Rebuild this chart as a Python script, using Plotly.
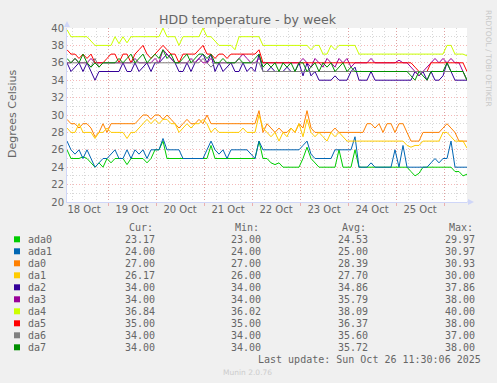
import plotly.graph_objects as go
import pandas as pd

# ---------------- data ----------------
series_names = ["ada0", "ada1", "da0", "da1", "da2", "da3", "da4", "da5", "da6", "da7"]
series_colors = ["#00CC00", "#0066B3", "#FF8000", "#FFCC00", "#330099",
                 "#990099", "#CCFF00", "#FF0000", "#808080", "#008F00"]

ada0 = [26, 25, 25, 25, 25.2, 25, 24.5, 24, 24.5, 24,
        25, 24.5, 25, 25, 25, 24.3, 25, 25, 25, 25,
        24.5, 25, 26, 26, 27, 25, 25, 25, 25, 25,
        25, 25, 25, 25, 25, 25, 26.5, 25, 25, 25,
        25, 25, 25, 25, 25, 25, 25, 25, 27, 25,
        25, 24.5, 24.3, 24.5, 24, 24, 24, 24, 24, 25,
        26.3, 25, 24.5, 24, 24, 24, 24, 24, 26, 24,
        24, 24, 26, 24, 24, 24, 24, 24, 24, 24,
        24, 24, 24, 24, 24, 24, 23.5, 23, 23.3, 24,
        24, 24, 24, 24, 24, 24, 24, 23.5, 23.5, 23,
        23.2]
ada1 = [27, 26, 25.5, 26, 25, 26, 25, 24, 24.5, 25,
        25, 25.5, 26, 25, 25, 26, 25, 26, 25.5, 26,
        25, 26, 26, 26, 27.3, 26, 26, 26, 26, 25,
        25, 25, 25, 25, 25, 26, 27, 26, 25.5, 26,
        25, 26, 26, 26, 26, 26, 25.5, 25, 27, 26,
        26, 26, 26, 26, 26, 26, 26, 26, 26, 26.5,
        27, 25.5, 25, 25, 25, 25, 25, 26, 26, 26,
        26, 26, 27.5, 24, 24, 24, 24.5, 24, 24, 24,
        24, 24, 26, 24, 26.5, 24, 24, 24, 24, 24,
        24, 24.5, 25, 24.5, 25, 25, 27, 24, 24, 24,
        24]
da0 = [29.5, 29, 29, 28.5, 29, 29, 28.5, 27.5, 28, 29,
       28, 29, 29, 29, 29, 29, 29, 29, 29.5, 30,
       30, 29.5, 30, 30, 29.5, 30, 29.5, 29, 28.5, 29,
       29.5, 29, 29, 29.5, 29, 30, 29, 29, 29, 29,
       29, 29, 29, 29, 29, 29, 29, 29, 30.5, 28,
       29, 28.5, 28, 28.5, 28, 28, 28.5, 28, 29, 28.5,
       30.5, 28.5, 28, 28, 28, 28, 28, 28.5, 28, 28,
       28, 28, 28, 28, 28, 29, 29, 28.5, 29, 28,
       29, 29, 28, 29, 29, 28, 27, 27, 27, 28,
       28, 28, 28, 28, 28.5, 29, 28.5, 28, 27, 27,
       27]
da1 = [28.5, 28, 28, 29, 28, 28, 28, 27.3, 28, 28,
       28.5, 28, 28, 28, 28, 27.3, 28, 28, 28.5, 29,
       29.5, 29, 29.5, 29, 29.5, 29.5, 29, 29, 28, 28.5,
       29, 28.5, 29, 29, 29.5, 29, 28, 28.5, 28, 28,
       28, 28, 28, 28, 28.5, 28, 28, 28, 30, 28.5,
       28, 27.5, 28, 27, 28, 27.5, 28.5, 28, 29, 27.5,
       29.5, 28, 27.5, 28, 27.5, 27, 28, 27.5, 28, 27.5,
       27, 27, 27, 27, 27, 27, 27, 27, 27, 27,
       27, 27, 27, 27, 27, 26.5, 26.3, 26.5, 26.5, 27,
       27, 27, 27, 27, 28, 28, 27.5, 27, 27, 27,
       26.2]
da2 = [36, 35, 35.5, 36, 35, 36, 35, 34, 35, 35,
       35, 35, 35, 35, 36, 35, 35, 36, 35, 35.5,
       36, 35, 36, 36, 36.5, 37, 36.5, 36, 35, 35,
       36, 35, 36, 36.5, 37, 36, 37, 35, 36, 35,
       35.5, 36, 35, 35, 36, 35, 35.5, 35, 37, 35,
       35, 35.5, 35, 35, 35, 35.5, 35, 35, 36, 34.5,
       36, 34.5, 35, 34, 34, 34, 34, 34.5, 34, 34,
       34, 35, 35.5, 34, 34, 34, 35, 34, 34, 34,
       34, 34, 34, 34, 34, 34, 34, 35, 34.5, 35,
       34, 35, 34, 34, 34.5, 36, 35, 34, 34, 34,
       34]
da3 = [36, 36, 36.5, 36, 36, 36, 36.5, 36, 36, 36,
       36, 36, 36, 36, 36, 36, 36, 36.5, 36, 36,
       36, 36, 36.5, 36, 37.5, 37, 36.5, 36, 36, 36,
       36, 36.5, 36, 36.5, 36, 36, 36.5, 36, 36, 36,
       36, 36, 36, 36.5, 37, 36.5, 36, 36, 36.5, 36,
       36, 36, 36, 36, 36, 36, 36, 36, 36, 36.5,
       36, 35.5, 36.5, 36, 35.5, 36.5, 36, 35.5, 36.5, 36,
       36.5, 35.5, 36, 36, 36, 36, 36.5, 36, 36, 36,
       36, 36, 36, 36.3, 36, 36, 35.5, 35, 34.5, 35,
       35.5, 36, 36.5, 36, 36.5, 36, 36.5, 36, 36, 35,
       34]
da4 = [39.8, 39, 39, 39, 39, 39, 38.5, 38, 38, 38,
       38, 38, 39, 38.2, 39, 38.3, 39, 39, 39, 39,
       39, 39, 39, 39, 40, 39, 39, 39, 38, 39,
       39, 39, 39, 39, 40, 39, 39, 38.5, 38, 38,
       38, 38, 37.5, 39, 39, 39, 39, 39, 39, 38,
       38, 38, 38, 38, 38, 38, 38, 38, 38, 38,
       38, 37.5, 38, 38, 37, 37, 38, 37.5, 38, 38,
       38, 38, 38, 37, 37, 37, 37, 37, 37, 37,
       37, 37, 37, 37, 37, 37, 37, 37, 37, 37,
       37, 37, 37, 37, 37, 38, 38, 37, 37, 37,
       36.8]
da5 = [37.5, 37, 37, 36.5, 37, 36.5, 37, 36, 36, 36,
       36.5, 37, 37, 36, 37, 37, 36, 37, 37.5, 38,
       37, 36.5, 37, 37.5, 38, 37.5, 37, 37, 36, 37,
       37, 37, 37, 37.5, 38, 37, 37, 36.5, 37, 37,
       36.5, 37, 37, 37, 37, 37, 37, 37, 37.5, 36,
       36, 36, 36, 36, 36, 36, 36, 36, 36, 36,
       36, 36, 36, 36, 36, 36, 36, 36, 36, 36,
       36, 36, 36, 36, 36, 36, 36, 36, 36, 36,
       36, 36, 36, 36, 36, 36, 36, 35.5, 35, 35,
       35, 36, 36, 36, 36, 36, 36, 36, 36, 36,
       35]
da6 = [36, 36, 36, 36, 36, 36, 35.5, 36.5, 35.5, 36,
       36, 36, 36, 36, 36, 36, 36, 36, 36, 36,
       36, 36, 36, 36, 36, 36, 36, 36, 36, 36,
       36, 36, 36, 36, 36.5, 36, 35.5, 36, 36, 36,
       36, 36, 36, 36, 36, 36, 36, 36, 36, 35,
       35, 35, 35, 35, 35, 35, 35, 35, 35, 35,
       35, 35, 35, 35, 35, 35, 35, 35, 35, 35,
       35, 35, 35, 35, 35, 35, 35, 35, 35, 35,
       35, 35, 35, 35, 35, 35, 35, 35, 35, 35,
       35, 35, 35, 35, 35, 35, 35, 35, 35, 35,
       34]
da7 = [36.5, 36, 36.5, 36, 37, 36, 35.5, 36, 35.5, 36,
       36, 36, 36, 36.5, 36, 36.5, 37, 36, 36.5, 37,
       36, 36.5, 37, 36.5, 37.5, 36.5, 37, 36, 36, 36.5,
       37, 36, 36.5, 37, 37, 36.5, 37, 36, 36, 36.5,
       36, 36, 36, 36.5, 36, 36, 36, 36.5, 37, 35.5,
       36, 35.5, 36, 35, 36, 35.5, 36, 35, 36, 36,
       35, 35.5, 36, 35, 36, 35.5, 36, 35, 35.5, 36,
       35, 35.5, 35, 35, 35, 35, 35, 35, 35, 35,
       35, 35, 35, 35, 35, 35, 34.5, 34, 35, 34.5,
       34, 35, 35, 35, 35, 36, 35, 35, 35, 35,
       34]

series_values = [ada0, ada1, da0, da1, da2, da3, da4, da5, da6, da7]

cur_vals = ["23.17", "24.00", "27.00", "26.17", "34.00", "34.00", "36.84", "35.00", "34.00", "34.00"]
min_vals = ["23.00", "24.00", "27.00", "26.00", "34.00", "34.00", "36.02", "35.00", "34.00", "34.00"]
avg_vals = ["24.53", "25.00", "28.39", "27.70", "34.86", "35.79", "38.09", "36.37", "35.60", "35.72"]
max_vals = ["29.97", "30.97", "30.93", "30.00", "37.86", "38.00", "40.00", "38.00", "37.00", "38.00"]

day_labels = ["18 Oct", "19 Oct", "20 Oct", "21 Oct", "22 Oct", "23 Oct", "24 Oct", "25 Oct"]
day_dates = ["2025-10-18", "2025-10-19", "2025-10-20", "2025-10-21",
             "2025-10-22", "2025-10-23", "2025-10-24", "2025-10-25"]

start = pd.Timestamp("2025-10-18 03:30")
end = pd.Timestamp("2025-10-26 11:30")
times = pd.date_range(start, periods=len(ada0), freq="2h")

# ---------------- layout geometry ----------------
W, H = 497, 383
L, R, T, B = 67, 30, 28, 181
PW = W - L - R
PH = H - T - B


def pxx(x):
    return (x - L) / PW


def pxy(y):
    return (H - B - y) / PH


FONT = "DejaVu Sans"
MONO = "DejaVu Sans Mono"
TXT = "#666666"
AXIS = "#CFD6F8"
MINOR = "rgba(143,143,143,0.35)"
MAJOR = "rgba(229,80,80,0.40)"
DASH = "1px,2px"

fig = go.Figure()
for name, col, vals in zip(series_names, series_colors, series_values):
    fig.add_trace(go.Scatter(x=times, y=vals, mode="lines", name=name,
                             line=dict(color=col, width=1), hoverinfo="skip"))

# dummy traces for auxiliary axes
fig.add_trace(go.Scatter(x=[start, end], y=[30, 30], xaxis="x2", mode="markers",
                         marker=dict(opacity=0), hoverinfo="skip", showlegend=False))
fig.add_trace(go.Scatter(x=[start, end], y=[30, 30], xaxis="x3", mode="markers",
                         marker=dict(opacity=0), hoverinfo="skip", showlegend=False))

noon_vals = [pd.Timestamp(d) + pd.Timedelta(hours=12) for d in day_dates]

fig.update_layout(
    width=W, height=H, autosize=False,
    margin=dict(l=L, r=R, t=T, b=B, pad=0),
    paper_bgcolor="#F0F0F0", plot_bgcolor="#FFFFFF",
    showlegend=False, hovermode=False,
    font=dict(family=FONT, size=10, color=TXT),
    xaxis=dict(range=[start, end], type="date", tickmode="linear",
               tick0="2025-10-18 00:00", dtick=6 * 3600 * 1000,
               showgrid=True, gridcolor=MINOR, griddash=DASH, gridwidth=1,
               showticklabels=False, ticks="", zeroline=False,
               showline=True, linecolor=AXIS, linewidth=1, fixedrange=True),
    xaxis2=dict(range=[start, end], type="date", overlaying="x", anchor="y",
                tickmode="linear", tick0="2025-10-18 00:00", dtick=86400000,
                showgrid=True, gridcolor=MAJOR, griddash=DASH, gridwidth=1,
                showticklabels=False, ticks="outside", ticklen=3,
                tickcolor=MAJOR, zeroline=False, showline=False, fixedrange=True),
    xaxis3=dict(range=[start, end], type="date", overlaying="x", anchor="y",
                tickmode="array", tickvals=noon_vals, ticktext=day_labels,
                showgrid=False, ticks="", zeroline=False, showline=False,
                tickfont=dict(family=FONT, size=10, color=TXT), fixedrange=True),
    yaxis=dict(range=[20, 40], tickmode="linear", tick0=20, dtick=2,
               showgrid=True, gridcolor=MAJOR, griddash=DASH, gridwidth=1,
               minor=dict(dtick=1, showgrid=True, gridcolor=MINOR, griddash=DASH),
               ticks="", zeroline=False, showline=True, linecolor=AXIS,
               tickfont=dict(family=FONT, size=10, color=TXT), fixedrange=True),
)

ann = []
ann.append(dict(x=pxx(248), y=pxy(19), xref="paper", yref="paper", text="HDD temperature - by week",
                showarrow=False, xanchor="center", yanchor="middle",
                font=dict(family=FONT, size=12.6, color=TXT)))
ann.append(dict(x=pxx(12), y=pxy(113), xref="paper", yref="paper", text="Degrees Celsius",
                showarrow=False, textangle=-90, xanchor="center", yanchor="middle",
                font=dict(family=FONT, size=11, color=TXT)))
ann.append(dict(x=pxx(489), y=pxy(58), xref="paper", yref="paper", text="RRDTOOL / TOBI OETIKER",
                showarrow=False, textangle=90, xanchor="center", yanchor="middle",
                font=dict(family=FONT, size=7.5, color="#C8C8C8")))

col_left = [126.7, 233.3, 340.0, 446.7]
col_right = [c + 30.0 for c in col_left]
headers = ["Cur:", "Min:", "Avg:", "Max:"]
for hx, ht in zip(col_left, headers):
    ann.append(dict(x=pxx(hx), y=pxy(227.5), xref="paper", yref="paper", text=ht,
                    showarrow=False, xanchor="left", yanchor="middle",
                    font=dict(family=MONO, size=10, color=TXT)))

shapes = []
row_y0 = 239.3
row_dy = 12.0
for k, name in enumerate(series_names):
    yy = row_y0 + k * row_dy
    shapes.append(dict(type="rect", xref="paper", yref="paper",
                       x0=pxx(14), x1=pxx(20), y0=pxy(yy - 3), y1=pxy(yy + 3),
                       fillcolor=series_colors[k], line=dict(width=0)))
    ann.append(dict(x=pxx(26), y=pxy(yy), xref="paper", yref="paper", text=name,
                    showarrow=False, xanchor="left", yanchor="middle",
                    font=dict(family=MONO, size=10, color=TXT)))
    for cx, vals in zip(col_right, [cur_vals, min_vals, avg_vals, max_vals]):
        ann.append(dict(x=pxx(cx), y=pxy(yy), xref="paper", yref="paper", text=vals[k],
                        showarrow=False, xanchor="right", yanchor="middle",
                        font=dict(family=MONO, size=10, color=TXT)))

ann.append(dict(x=pxx(482.7), y=pxy(359.3), xref="paper", yref="paper",
                text="Last update: Sun Oct 26 11:30:06 2025",
                showarrow=False, xanchor="right", yanchor="middle",
                font=dict(family=MONO, size=10, color=TXT)))
ann.append(dict(x=pxx(247.7), y=pxy(372.3), xref="paper", yref="paper",
                text="Munin 2.0.76", showarrow=False, xanchor="center", yanchor="middle",
                font=dict(family=FONT, size=7.5, color="#CCCCCC")))

# axis arrows
shapes.append(dict(type="path", xref="paper", yref="paper",
                   path=f"M {pxx(64)},{pxy(27)} L {pxx(67)},{pxy(21)} L {pxx(70)},{pxy(27)} Z",
                   fillcolor=AXIS, line=dict(width=0)))
shapes.append(dict(type="line", xref="paper", yref="paper",
                   x0=pxx(467), x1=pxx(469), y0=pxy(202), y1=pxy(202),
                   line=dict(color=AXIS, width=1)))
shapes.append(dict(type="path", xref="paper", yref="paper",
                   path=f"M {pxx(468)},{pxy(199)} L {pxx(474)},{pxy(202)} L {pxx(468)},{pxy(205)} Z",
                   fillcolor=AXIS, line=dict(width=0)))

fig.update_layout(annotations=ann, shapes=shapes)

fig.write_html("out.html", config={"displayModeBar": False, "staticPlot": True},
               post_script="document.body.style.margin='0px';document.body.style.background='#F0F0F0';")
